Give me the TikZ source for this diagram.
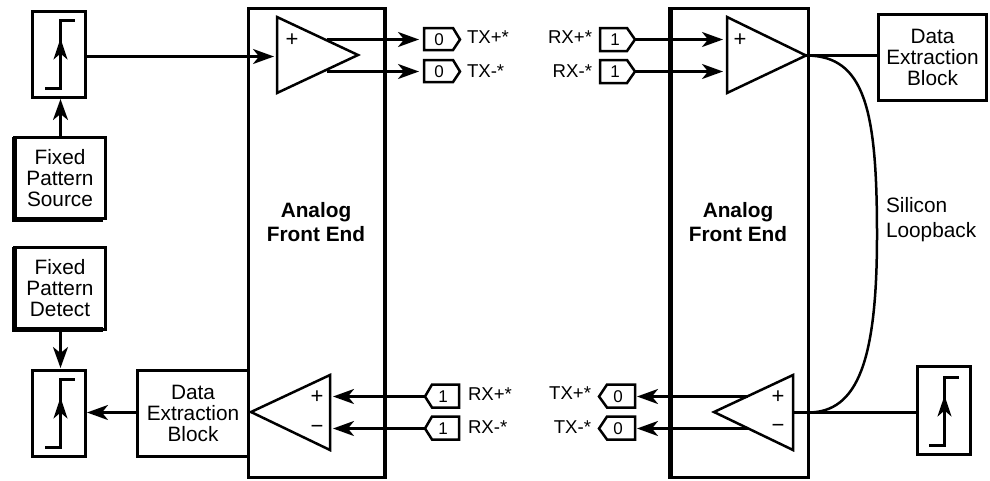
\documentclass[tikz,border=0pt]{standalone}
\usepackage{fontspec}
\setmainfont{Liberation Sans}
\usetikzlibrary{arrows.meta}
\tikzset{
  x=1pt,y=-1pt,
  every node/.style={font=\fontsize{20.8}{21}\selectfont,inner sep=0pt,outer sep=0pt},
  wire/.style={line width=2.6pt},
  arr/.style={line width=2.6pt,-{Stealth[length=21pt,width=15pt,inset=6pt]}},
  sbox/.style={draw,line width=2.5pt,fill=white,align=center,anchor=north west},
  amp/.style={line width=2.5pt,fill=white},
  tag/.style={line width=2.5pt,fill=white},
  lab/.style={font=\fontsize{18.6}{21}\selectfont},
  dig/.style={font=\fontsize{17}{18}\selectfont},
  sgn/.style={font=\fontsize{22}{22}\selectfont},
  big/.style={font=\fontsize{20.8}{24}\selectfont\bfseries,align=center},
}
\newcommand{\stepglyph}[2]{% x of riser, y bottom
  \draw[line width=2.5pt] (#1-15.5,#2) -- (#1,#2) -- (#1,#2-68) -- (#1+14,#2-68);
  \draw[line width=2.5pt,-{Stealth[length=21pt,width=14pt,inset=6pt]}] (#1,#2-28) -- (#1,#2-50);
}
\begin{document}
\begin{tikzpicture}
\useasboundingbox (0,0) rectangle (990,480);
% AFE blocks
\draw[line width=2.5pt] (383,8.5) -- (248.5,8.5) -- (248.5,477.5) -- (385,477.5);
\fill (382.5,7) rectangle (387,479);
\node[big] (afeL) at (316,222) {Analog\\Front End};
\draw[line width=2.5pt] (670,8.5) -- (808.5,8.5) -- (808.5,477.5) -- (670,477.5);
\fill (668,7) rectangle (672.5,479);
\node[big] (afeR) at (738,222) {Analog\\Front End};
% Step boxes
\node[sbox,minimum width=53pt,minimum height=86pt] (s1) at (32.5,11.5) {};
\stepglyph{60.5}{88.5}
\node[sbox,minimum width=53pt,minimum height=86pt] (s2) at (32.5,370.5) {};
\stepglyph{60.5}{447.5}
\node[sbox,minimum width=53pt,minimum height=88pt] (s3) at (917.5,366.5) {};
\stepglyph{944.5}{445.5}
% Fixed pattern boxes
\node[sbox,minimum width=91pt,minimum height=81pt] (src) at (14.5,137.5) {Fixed\\Pattern\\Source};
\fill (11.5,136.5) rectangle (16.5,221.5); \fill (11.5,216.5) rectangle (103,221.5);
\node[sbox,minimum width=91pt,minimum height=82pt] (det) at (14.5,247.5) {Fixed\\Pattern\\Detect};
\fill (11.5,246.5) rectangle (16.5,331.5); \fill (11.5,326.5) rectangle (103,331.5);
% Data extraction
\node[sbox,minimum width=108pt,minimum height=86pt] (deT) at (878.5,14.5) {Data\\Extraction\\Block};
\node[sbox,minimum width=111pt,minimum height=86pt] (deB) at (137.5,370.5) {Data\\Extraction\\Block};
% Amplifiers
\draw[amp] (277,17) coordinate (aL) -- (358,55) -- (277,93) -- cycle;
\node[sgn] at (292,40) {+};
\draw[amp] (727,17) -- (806,55.5) coordinate (aRo) -- (727,93) -- cycle;
\node[sgn] at (740,40) {+};
\draw[amp] (330,375) -- (251,412) -- (330,450) -- cycle;
\node[sgn] at (317,397) {+};
\node[sgn] at (317,429) {−};
\draw[amp] (793,375) -- (714,412) -- (793,450) -- cycle;
\node[sgn] at (778,397) {+};
\node[sgn] at (778,428) {−};
% Tags
\draw[tag] (424,28) -- (453,28) -- (460,39.5) -- (453,50) -- (424,50) -- cycle;
\node[dig] (t1) at (439,40) {0};
\draw[tag] (424,60) -- (453,60) -- (460,71.5) -- (453,82) -- (424,82) -- cycle;
\node[dig] (t2) at (439,72) {0};
\draw[tag] (600,28) -- (627,28) -- (635,39.5) -- (627,51) -- (600,51) -- cycle;
\node[dig] (r1) at (615,40) {1};
\draw[tag] (600,60) -- (627,60) -- (635,71.5) -- (627,83) -- (600,83) -- cycle;
\node[dig] (r2) at (615,72) {1};
\draw[tag] (459,384.5) -- (432,384.5) -- (425,396.5) -- (432,407.5) -- (459,407.5) -- cycle;
\node[dig] (b1) at (443,396.5) {1};
\draw[tag] (459,416.5) -- (432,416.5) -- (425,428.5) -- (432,439.5) -- (459,439.5) -- cycle;
\node[dig] (b2) at (443,428.5) {1};
\draw[tag] (635,384.5) -- (607,384.5) -- (599,396.5) -- (607,407.5) -- (635,407.5) -- cycle;
\node[dig] (c1) at (618,396.5) {0};
\draw[tag] (635,416.5) -- (607,416.5) -- (599,428.5) -- (607,439.5) -- (635,439.5) -- cycle;
\node[dig] (c2) at (618,428.5) {0};
% Labels
\node[lab,anchor=base west] at (467,43) {TX+*};
\node[lab,anchor=base west] at (467,77) {TX-*};
\node[lab,anchor=base east] at (592,43) {RX+*};
\node[lab,anchor=base east] at (592,77) {RX-*};
\node[lab,anchor=base west] at (468,400) {RX+*};
\node[lab,anchor=base west] at (468,433) {RX-*};
\node[lab,anchor=base east] at (591,399) {TX+*};
\node[lab,anchor=base east] at (591,433) {TX-*};
\node[align=left,anchor=west,font=\fontsize{20.8}{25}\selectfont] (sl) at (886,220) {Silicon\\Loopback};
% Connectors
\draw[arr] (60.5,137) -- (60.5,99);
\draw[arr] (60.5,331) -- (60.5,368);
\draw[arr] (s1.east |- 0,56.5) -- (274,56.5);
\draw[arr] (deB.west |- 0,412.5) -- (87,412.5);
\draw[arr] (327,39.5) -- (419,39.5);
\draw[arr] (327,71.5) -- (419,71.5);
\draw[arr] (635,39.5) -- (723,39.5);
\draw[arr] (635,71.5) -- (723,71.5);
\draw[arr] (425,396.5) -- (333,396.5);
\draw[arr] (425,428.5) -- (333,428.5);
\draw[arr] (748,396.5) -- (637,396.5);
\draw[arr] (748,428.5) -- (637,428.5);
\draw[wire] (aRo) -- (deT.west |- aRo);
\draw[wire] (793,412.5) -- (s3.west |- 0,412.5);
\draw[line width=2.5pt] (aRo) .. controls (865,55.5) and (877,110) .. (877,235) .. controls (877,360) and (858,412.5) .. (808,412.5);
\end{tikzpicture}
\end{document}
